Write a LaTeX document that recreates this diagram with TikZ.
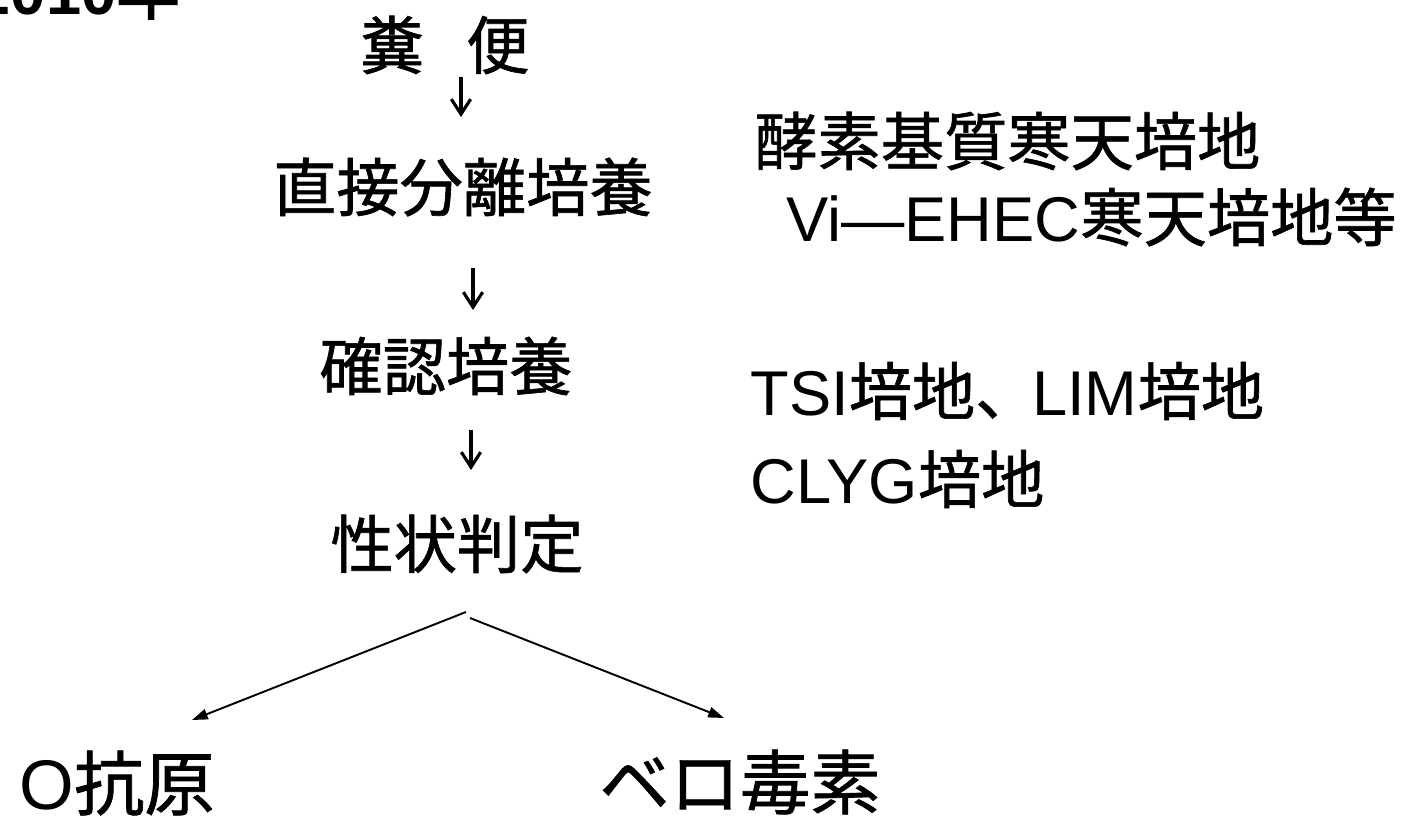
\documentclass[tikz,border=0pt]{standalone}
\usepackage{fontspec}
\setmainfont{Noto Sans CJK JP}[FakeBold=1]
\newfontfamily\lat{Liberation Sans}
\newfontfamily\latb{Liberation Sans Bold}
\usetikzlibrary{arrows.meta}
\begin{document}
\begin{tikzpicture}[x=0.02cm,y=-0.02cm,
  lbl/.style={inner sep=0pt, font=\fontsize{36}{43}\selectfont},
  biglbl/.style={inner sep=0pt, font=\fontsize{40}{48}\selectfont},
  varr/.style={line width=1.8pt, -{Straight Barb[length=8.5pt,width=11pt]}},
  darr/.style={line width=1.1pt, -{Triangle[length=9pt,width=6pt]}}]
\useasboundingbox (0,0) rectangle (1406,818);
% title (cut off at the top)
\node[inner sep=0pt, font=\fontsize{36}{43}\selectfont, anchor=base east] (year) at (180,14) {{\latb 2010}{\addfontfeature{FakeBold=2.5}年}};
% main column
\node[lbl] (feces) at (445,45) {糞\hspace{0.85cm}便};
\node[lbl] (direct) at (463,187) {直接分離培養};
\node[lbl] (confirm) at (446,366) {確認培養};
\node[lbl] (judge) at (457,544) {性状判定};
% right column
\node[lbl, anchor=west] (media1) at (754,141) {酵素基質寒天培地};
\node[lbl, anchor=west] (media2) at (786,217) {{\lat Vi—EHEC}寒天培地等};
\node[lbl, anchor=west] (media3) at (750,391) {{\lat TSI}培地、\hspace{-0.1em}{\lat LIM}培地};
\node[lbl, anchor=west] (media4) at (750,479) {{\lat CLYG}培地};
% results
\node[biglbl] (oant) at (117,783) {{\lat O}抗原};
\node[biglbl] (vero) at (740,782) {ベロ毒素};
% arrows
\coordinate (a1s) at (461,77);  \coordinate (a1e) at (461,117);
\coordinate (a2s) at (473,268); \coordinate (a2e) at (473,310);
\coordinate (a3s) at (471,430); \coordinate (a3e) at (471,470);
\draw[varr] (a1s) -- (a1e);
\draw[varr] (a2s) -- (a2e);
\draw[varr] (a3s) -- (a3e);
\coordinate (ls) at (466,612); \coordinate (le) at (192,720);
\coordinate (rs) at (470,618); \coordinate (re) at (724,718);
\draw[darr] (ls) -- (le);
\draw[darr] (rs) -- (re);
\end{tikzpicture}
\end{document}
